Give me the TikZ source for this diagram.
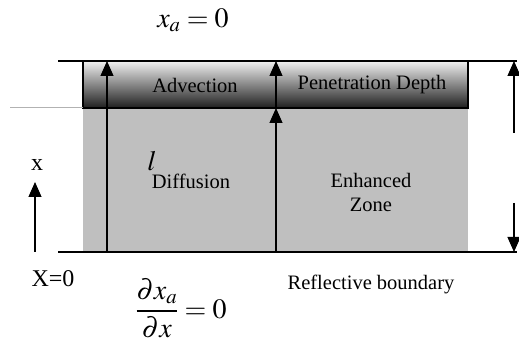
\documentclass[tikz,border=0pt]{standalone}
\usepackage{amsmath}
\usepackage{mathptmx}
\usepackage{fontspec}
\setmainfont{Liberation Serif}
\usetikzlibrary{arrows.meta, positioning}

\tikzset{
  lbl/.style={font=\fontsize{20.5}{24}\selectfont, inner sep=0pt},
  axlbl/.style={font=\fontsize{24}{28}\selectfont, inner sep=0pt},
  eqn/.style={font=\fontsize{28}{32}\selectfont, inner sep=0pt},
  flux/.style={->, line width=1.2pt},
  rim/.style={line width=1.5pt}
}

\begin{document}
\begin{tikzpicture}[x=1pt, y=-1pt, >={Triangle[length=15pt, width=13pt]}]
  \useasboundingbox (0,0) rectangle (519,347);

  % ---- Zones ----
  \fill[black!25] (83,108) rectangle (468,252);
  \shade[top color=white!94!black, middle color=black!30, bottom color=black!88] (83,61) rectangle (468,108);
  \draw[rim] (83,61) -- (83,108) -- (468,108) -- (468,61);
  \draw[black!30, line width=1pt] (10,108) -- (83,108);

  % ---- Boundaries ----
  \draw[rim] (58,61) -- (517,61);
  \draw[rim] (58,252) -- (517,252);

  % ---- Arrow ends ----
  \coordinate (advB) at (107,252);
  \coordinate (advT) at (107,61);
  \coordinate (penB) at (276,252);
  \coordinate (penM) at (276,108);
  \coordinate (penT) at (276,61);
  \coordinate (hgtT) at (514,61);
  \coordinate (hgtU) at (514,133);
  \coordinate (hgtD) at (514,203);
  \coordinate (hgtB) at (514,252);
  \coordinate (axB) at (35,252);
  \coordinate (axT) at (35,182);

  \draw[flux] (advB) -- (advT);
  \draw[flux] (penB) -- (penM);
  \draw[flux] (penM) -- (penT);
  \draw[flux] (hgtU) -- (hgtT);
  \draw[flux] (hgtD) -- (hgtB);
  \draw[flux] (axB) -- (axT);

  % ---- Labels ----
  \node[eqn] (topbc) at (193,20) {$x_a = 0$};
  \node[lbl] (adv) at (195,85) {Advection};
  \node[lbl] (pen) at (372,85) {Penetration Depth};
  \node[eqn] (ell) at (152,161) {$l$};
  \node[lbl] (dif) at (191,181) {Diffusion};
  \node[lbl, align=center] (enh) at (371,192) {Enhanced\\Zone};
  \node[axlbl] (xlab) at (37,165) {x};
  \node[axlbl] (orig) at (53,279) {X=0};
  \node[lbl] (refl) at (371,284) {Reflective boundary};
  \node[eqn] (botbc) at (181,308) {$\dfrac{\partial x_a}{\partial x} = 0$};
\end{tikzpicture}
\end{document}
